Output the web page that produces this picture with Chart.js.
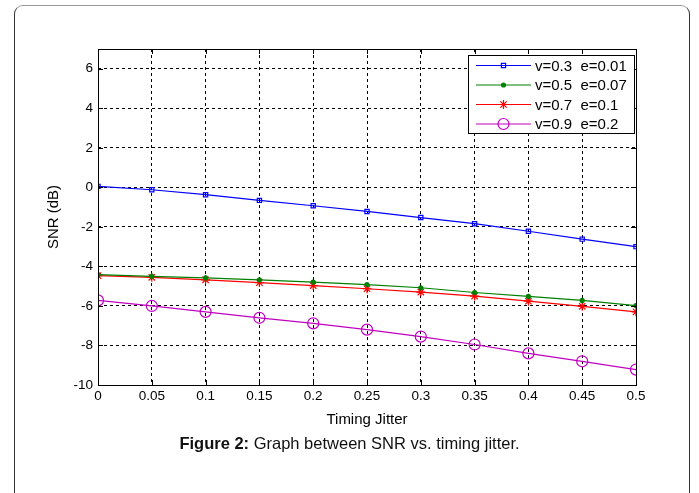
<!DOCTYPE html>
<html>
<head>
<meta charset="utf-8">
<script src="https://cdn.jsdelivr.net/npm/chart.js@4"></script>
<style>
  body { margin: 0; background: #fff; }
  #wrap { position: relative; width: 699px; height: 493px; overflow: hidden; font-family: "Liberation Sans", Arial, sans-serif; }
  #frame { position: absolute; left: 14px; top: 5px; width: 676px; height: 500px; border: 1px solid #333; border-top-color: #999; border-radius: 9px; box-sizing: border-box; }
  #chart { position: absolute; left: 0; top: 0; }
  #caption { position: absolute; left: 0; width: 699px; top: 434px; text-align: center; font-size: 16.5px; color: #111; }
</style>
</head>
<body>
<div id="wrap">
  <div id="frame"></div>
  <canvas id="chart" width="699" height="493"></canvas>
  <div id="caption"><b>Figure 2:</b> Graph between SNR vs. timing jitter.</div>
</div>
<script>
// 横轴：时间抖动
const jitter = [0, 0.05, 0.1, 0.15, 0.2, 0.25, 0.3, 0.35, 0.4, 0.45, 0.5];
const yTicks = [-10, -8, -6, -4, -2, 0, 2, 4, 6];

// 四条曲线
const snr1 = [0.05, -0.12, -0.37, -0.66, -0.93, -1.22, -1.53, -1.84, -2.22, -2.62, -3.0];
const snr2 = [-4.42, -4.5, -4.58, -4.68, -4.79, -4.92, -5.08, -5.32, -5.52, -5.72, -5.98];
const snr3 = [-4.47, -4.55, -4.68, -4.82, -4.97, -5.13, -5.3, -5.5, -5.76, -6.02, -6.3];
const snr4 = [-5.72, -6.0, -6.3, -6.6, -6.88, -7.2, -7.55, -7.95, -8.4, -8.8, -9.22];

const labels = ['v=0.3  e=0.01', 'v=0.5  e=0.07', 'v=0.7  e=0.1', 'v=0.9  e=0.2'];

function pts(arr) {
  return arr.map((v, i) => ({ x: jitter[i], y: v }));
}

const series = [
  { label: labels[0], data: pts(snr1), borderColor: '#0000ff', pointStyle: 'rect', pointRadius: 3, pointBackgroundColor: 'rgba(0,0,0,0)' },
  { label: labels[1], data: pts(snr2), borderColor: '#008000', pointStyle: 'circle', pointRadius: 2, pointBackgroundColor: '#008000' },
  { label: labels[2], data: pts(snr3), borderColor: '#ff0000', pointStyle: 'star', pointRadius: 4.5, pointBackgroundColor: '#ff0000' },
  { label: labels[3], data: pts(snr4), borderColor: '#c000c0', pointStyle: 'circle', pointRadius: 5.5, pointBackgroundColor: 'rgba(0,0,0,0)' }
];
series.forEach(s => {
  s.borderWidth = 1.2;
  s.pointBorderColor = s.borderColor;
  s.pointBorderWidth = 1.2;
  s.tension = 0;
  s.fill = false;
});

const font = '"Liberation Sans", Arial, sans-serif';

// 坐标框 + 向内的刻度线（matlab 风格）
const boxPlugin = {
  id: 'box',
  afterDatasetsDraw(chart) {
    const { ctx, chartArea: a, scales } = chart;
    ctx.save();
    ctx.strokeStyle = '#000';
    ctx.lineWidth = 1;
    ctx.strokeRect(a.left + 0.5, a.top + 0.5, a.right - a.left, a.bottom - a.top);
    ctx.beginPath();
    jitter.forEach(v => {
      const x = Math.round(scales.x.getPixelForValue(v)) + 0.5;
      ctx.moveTo(x, a.bottom); ctx.lineTo(x, a.bottom - 5);
      ctx.moveTo(x, a.top); ctx.lineTo(x, a.top + 5);
    });
    yTicks.forEach(v => {
      const y = Math.round(scales.y.getPixelForValue(v)) + 0.5;
      ctx.moveTo(a.left, y); ctx.lineTo(a.left + 5, y);
      ctx.moveTo(a.right, y); ctx.lineTo(a.right - 5, y);
    });
    ctx.stroke();
    ctx.restore();
  }
};

// 图内图例（右上角）
const legendPlugin = {
  id: 'innerLegend',
  afterDraw(chart) {
    const { ctx, chartArea: a } = chart;
    const x0 = a.right - 168, y0 = a.top + 6, w = 166, rowH = 19.5, h = 78;
    ctx.save();
    ctx.fillStyle = '#fff';
    ctx.fillRect(x0, y0, w, h);
    ctx.strokeStyle = '#000';
    ctx.lineWidth = 1;
    ctx.strokeRect(x0 + 0.5, y0 + 0.5, w, h);
    ctx.font = '15px ' + font;
    ctx.textBaseline = 'middle';
    chart.data.datasets.forEach((ds, i) => {
      const y = y0 + 10.5 + i * rowH;
      ctx.strokeStyle = ds.borderColor;
      ctx.lineWidth = 1.2;
      ctx.beginPath();
      ctx.moveTo(x0 + 8, y); ctx.lineTo(x0 + 63, y);
      ctx.stroke();
      ctx.fillStyle = ds.pointBackgroundColor;
      Chart.helpers.drawPoint(ctx, {
        pointStyle: ds.pointStyle, radius: ds.pointRadius, borderWidth: 1.2
      }, x0 + 35.5, y);
      ctx.fillStyle = '#000';
      ctx.fillText(ds.label, x0 + 67, y + 1);
    });
    ctx.restore();
  }
};

new Chart(document.getElementById('chart'), {
  type: 'line',
  data: { datasets: series },
  options: {
    responsive: false,
    animation: false,
    layout: { padding: { left: 45, right: 63, top: 49, bottom: 64 } },
    plugins: { legend: { display: false }, tooltip: { enabled: false } },
    scales: {
      x: {
        type: 'linear',
        min: 0, max: 0.5,
        afterBuildTicks: s => { s.ticks = jitter.map(v => ({ value: v })); },
        afterFit: s => { s.height = 44; },
        grid: { color: '#000', lineWidth: 1, drawTicks: false },
        border: { display: false, dash: [3, 3] },
        ticks: { color: '#000', padding: 3, maxRotation: 0, font: { size: 13.5, family: font }, callback: v => String(v) },
        title: { display: true, text: 'Timing Jitter', color: '#000', padding: 0, font: { size: 15, family: font } }
      },
      y: {
        min: -10, max: 7,
        afterBuildTicks: s => { s.ticks = yTicks.map(v => ({ value: v })); },
        afterFit: s => { s.width = 53; },
        grid: { color: '#000', lineWidth: 1, drawTicks: false },
        border: { display: false, dash: [3, 3] },
        ticks: { color: '#000', padding: 5, font: { size: 13.5, family: font } },
        title: { display: true, text: 'SNR (dB)', color: '#000', padding: 0, font: { size: 15, family: font } }
      }
    }
  },
  plugins: [boxPlugin, legendPlugin]
});
</script>
</body>
</html>
